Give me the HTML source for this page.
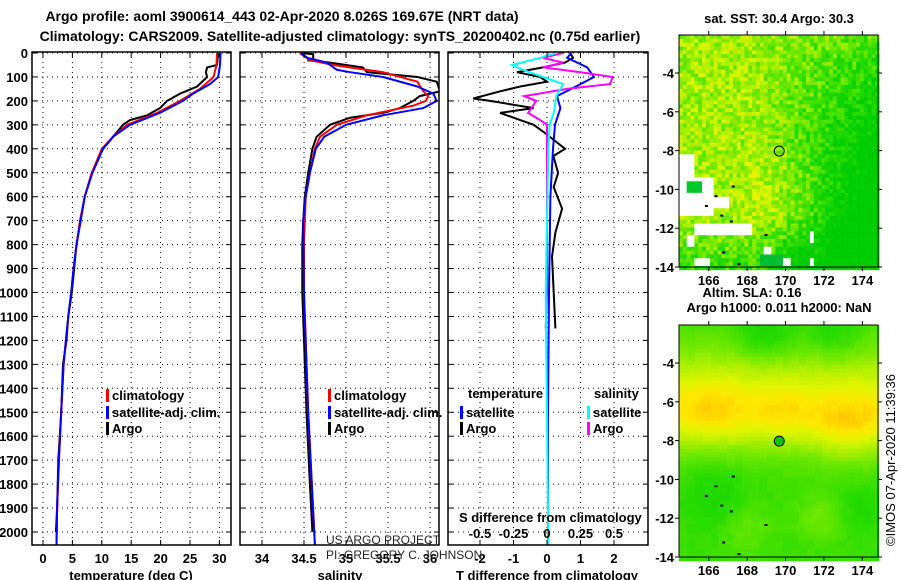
<!DOCTYPE html>
<html><head><meta charset="utf-8">
<style>
html,body{margin:0;padding:0;background:#fff;}
svg{display:block;font-family:"Liberation Sans",sans-serif;}
.b{font-weight:bold;font-size:13px;}
.t{font-weight:bold;font-size:14px;}
</style></head>
<body>
<svg id="chart" width="900" height="580" viewBox="0 0 900 580" xmlns="http://www.w3.org/2000/svg">
<defs>
<clipPath id="c1"><rect x="32" y="52" width="199" height="493"/></clipPath>
<clipPath id="c2"><rect x="240" y="52" width="199" height="493"/></clipPath>
<clipPath id="c3"><rect x="448" y="52" width="200" height="493"/></clipPath>
</defs>
<text class="t" x="282" y="21" text-anchor="middle">Argo profile: aoml 3900614_443 02-Apr-2020 8.026S 169.67E (NRT data)</text>
<text class="t" x="340" y="41" text-anchor="middle">Climatology: CARS2009. Satellite-adjusted climatology: synTS_20200402.nc (0.75d earlier)</text>
<g id="grid"></g>
<g id="series"></g>
<g id="frames"></g>
<g id="labels"></g>
<g id="maps"></g>
</svg>
<script>
// ---- data ----
const tDepth   = [0,50,60,80,100,140,170,200,230,260,280,300,350,400,500,600,700,800,900,1000,1100,1200,1300,1500,1700,1900,2000];
const tArgo    = [29.8,29.6,27.9,27.7,27.9,26.2,23.3,21.1,19.9,17.7,14.8,13.6,11.9,10.2,8.3,7.1,6.4,5.7,5.3,4.9,4.3,4.0,3.4,3.1,2.6,2.4,2.2];
const cDepth   = [0,50,100,150,200,250,300,350,400,500,600,700,800,900,1000,1100,1200,1300,1500,1700,1900,2055];
const tClim    = [29.6,29.5,29.0,26.7,23.3,19.4,14.3,11.9,10.0,8.3,7.1,6.3,5.7,5.2,4.8,4.3,3.9,3.5,3.1,2.7,2.4,2.3];
const sDepth   = [0,50,100,130,170,200,250,300,350,400,500,600,700,800,900,1000,1100,1200,1300,1500,1700,1900,2055];
const tSat     = [30.2,30.1,29.8,28.4,25.5,23.8,19.9,14.8,11.9,10.2,8.4,7.1,6.4,5.7,5.2,4.8,4.3,3.9,3.5,3.1,2.7,2.4,2.3];

const salArgoDepth = [0,5,25,30,40,60,80,100,120,160,180,200,230,250,270,300,350,400,500,600,700,800,1000,1200,1500,1800,2000];
const salArgo      = [34.46,34.61,34.61,34.54,34.81,35.20,35.25,35.85,36.08,36.12,35.88,35.80,35.64,35.44,35.05,34.81,34.65,34.60,34.55,34.51,34.49,34.48,34.48,34.50,34.53,34.57,34.60];
const salClimDepth = [0,30,50,80,120,160,180,200,220,260,300,350,400,500,600,800,1000,1500,2055];
const salClim      = [34.45,34.57,34.85,35.44,35.85,35.92,35.98,35.95,35.80,35.25,34.89,34.69,34.63,34.57,34.52,34.50,34.50,34.55,34.63];
const salSatDepth  = [0,20,40,70,80,100,140,170,200,230,260,300,350,400,500,600,700,1000,1500,2055];
const salSat       = [34.46,34.54,34.77,34.89,35.05,35.44,35.85,36.04,36.08,35.92,35.44,35.00,34.74,34.64,34.57,34.52,34.49,34.50,34.55,34.63];

const dTArgoDepth = [0,20,40,60,80,100,120,140,160,190,200,230,250,280,300,330,400,430,500,560,650,750,850,1000,1150];
const dTArgo      = [0.69,0.78,0.54,-0.12,-0.9,-0.2,0,-0.8,-1.4,-2.2,-1.7,-0.4,-1.4,-0.8,-0.4,-0.1,0.54,0.19,0.33,0.2,0.45,0.25,0.15,0.2,0.25];
const dTSatDepth  = [0,20,60,100,130,180,230,300,400,600,1000,1500,2055];
const dTSat       = [0.73,0.6,1.2,1.4,1.0,0.3,0.4,0.24,0.18,0.1,0.06,0.03,0.03];
const dSArgoDepth = [0,20,40,60,80,100,130,150,180,200,250,280,300,400,1000,1150];
const dSArgo      = [0.12,-0.03,0.12,-0.03,0.25,0.49,0.47,0.15,-0.17,-0.08,-0.14,-0.05,0,0,0,-0.01];
const dSSatDepth  = [0,20,50,70,100,130,180,250,300,400,1000,1500,2055];
const dSSat       = [0.07,-0.05,-0.26,-0.18,-0.03,0.12,0.07,0.05,0.02,0.01,-0.01,0.0,0.01];

const depthTicks = [0,100,200,300,400,500,600,700,800,900,1000,1100,1200,1300,1400,1500,1600,1700,1800,1900,2000];
const tempTicks  = [0,5,10,15,20,25,30];
const salTicks   = [34,34.5,35,35.5,36];
const dTTicks    = [-2,-1,0,1,2];
const dSTicks    = [-0.5,-0.25,0,0.25,0.5];
const dSTickLabels = ['-0.5','-0.25','0','0.25','0.5'];

// ---- scales ----
const yD = d => 53 + d*0.2395;
const xT = t => 43 + t*5.88;
const xS = s => 346 + (s-35)*84;
const xDT = v => 547 + v*33.5;
const xDS = v => 547 + v*134;

const NS='http://www.w3.org/2000/svg';
function mk(tag, attrs, parent){const e=document.createElementNS(NS,tag);for(const k in attrs)e.setAttribute(k,attrs[k]);parent.appendChild(e);return e;}
const G=document.getElementById('grid'),S=document.getElementById('series'),F=document.getElementById('frames'),L=document.getElementById('labels');

const panels=[{x0:32,x1:231,ticks:tempTicks,sx:xT,lab:tempTicks.map(String),title:'temperature (deg C)',tx:131},
{x0:240,x1:439,ticks:salTicks,sx:xS,lab:salTicks.map(String),title:'salinity',tx:340},
{x0:448,x1:648,ticks:dTTicks,sx:xDT,lab:dTTicks.map(String),title:'T difference from climatology',tx:547}];
const yTop=52,yBot=545;
panels.forEach((p,i)=>{
  depthTicks.forEach(d=>{
    const y=yD(d);
    const gl=mk('line',{x1:p.x0,x2:p.x1,y1:y,y2:y,stroke:'#000','stroke-width':1,'stroke-dasharray':'1,4'},G);
    
    
    mk('line',{x1:p.x0,x2:p.x0+5,y1:y,y2:y,stroke:'#000'},F);
    mk('line',{x1:p.x1-5,x2:p.x1,y1:y,y2:y,stroke:'#000'},F);
    if(i===0){const t=mk('text',{x:28,y:y+5,'text-anchor':'end',class:'b'},L);t.textContent=d;
      
      }
  });
  p.ticks.forEach((v,j)=>{
    const x=p.sx(v);
    const gl=mk('line',{x1:x,x2:x,y1:yTop,y2:yBot,stroke:'#000','stroke-width':1,'stroke-dasharray':'1,4'},G);
    
    
    mk('line',{x1:x,x2:x,y1:yBot-5,y2:yBot,stroke:'#000'},F);
    mk('line',{x1:x,x2:x,y1:yTop,y2:yTop+5,stroke:'#000'},F);
    const t=mk('text',{x:x,y:563,'text-anchor':'middle',class:'b'},L);t.textContent=p.lab[j];
    
    
  });
  const fr=mk('rect',{x:p.x0,y:yTop,width:p.x1-p.x0,height:yBot-yTop,fill:'none',stroke:'#000','stroke-width':1.5},F);
  
  
  const tt=mk('text',{x:p.tx,y:580,'text-anchor':'middle',class:'b'},L);tt.textContent=p.title;
  
  
});
dSTicks.forEach((v,j)=>{
  const t=mk('text',{x:xDS(v),y:538,'text-anchor':'middle',class:'b'},L);t.textContent=dSTickLabels[j];
  
  
});

function line(depths, vals, sx, color, clip, name){
  const pts=depths.map((d,i)=>sx(vals[i]).toFixed(1)+','+yD(d).toFixed(1)).join(' ');
  const e=mk('polyline',{points:pts,fill:'none',stroke:color,'stroke-width':2,'clip-path':'url(#'+clip+')'},S);
  
  
}
line(tDepth,tArgo,xT,'#000','c1','temp-argo-line');
line(cDepth,tClim,xT,'#f00','c1','temp-climatology-line');
line(sDepth,tSat,xT,'#00f','c1','temp-satellite-line');
line(salArgoDepth,salArgo,xS,'#000','c2','salinity-argo-line');
line(salClimDepth,salClim,xS,'#f00','c2','salinity-climatology-line');
line(salSatDepth,salSat,xS,'#00f','c2','salinity-satellite-line');
line(dTArgoDepth,dTArgo,xDT,'#000','c3','tdiff-argo-line');
line(dTSatDepth,dTSat,xDT,'#00f','c3','tdiff-satellite-line');
line(dSArgoDepth,dSArgo,xDS,'#f0f','c3','sdiff-argo-line');
line(dSSatDepth,dSSat,xDS,'#0ff','c3','sdiff-satellite-line');

function leg(x,y,color,label,name){
  const g=mk('g',{},L);
  
  
  mk('rect',{x:x,y:y-11,width:3,height:13,fill:color},g);
  const t=mk('text',{x:x+6,y:y,class:'b'},g);t.textContent=label;
}
leg(106,400,'#f00','climatology','legend-climatology');
leg(106,417,'#00f','satellite-adj. clim.','legend-satellite-adj');
leg(106,433,'#000','Argo','legend-argo');
leg(328,400,'#f00','climatology','legend-sal-climatology');
leg(328,417,'#00f','satellite-adj. clim.','legend-sal-satellite-adj');
leg(328,433,'#000','Argo','legend-sal-argo');
leg(460,417,'#00f','satellite','legend-tdiff-satellite');
leg(460,433,'#000','Argo','legend-tdiff-argo');
leg(587,417,'#0ff','satellite','legend-sdiff-satellite');
leg(587,433,'#f0f','Argo','legend-sdiff-argo');
</script>
<script>
(function(){
const NS='http://www.w3.org/2000/svg';
const M=document.getElementById('maps');
function mk(tag,a,p){const e=document.createElementNS(NS,tag);for(const k in a)e.setAttribute(k,a[k]);p.appendChild(e);return e;}
const mx0=679,mx1=878,lon0=164.45,ppd=19.2,lat0=-2.04,ppl=19.4;
const X=lon=>mx0+(lon-lon0)*ppd;
function hash(i,j,s){let h=(i*374761393+j*668265263+s*1442695041)|0;h=(h^(h>>>13))*1274126177|0;h=h^(h>>>16);return ((h>>>0)%10000)/10000;}
function col(v){
  v=Math.max(0,Math.min(1,v));
  const stops=[[0,[0,205,0]],[0.25,[40,220,0]],[0.45,[110,232,0]],[0.62,[175,240,0]],[0.78,[225,245,0]],[0.9,[255,230,0]],[1,[255,200,0]]];
  for(let k=1;k<stops.length;k++){if(v<=stops[k][0]){const a=stops[k-1],b=stops[k];const f=(v-a[0])/(b[0]-a[0]);
    const c=a[1].map((x,i)=>Math.round(x+(b[1][i]-x)*f));return 'rgb('+c.join(',')+')';}}
  return 'rgb(255,200,0)';
}
const whites=[[164.45,165.3,-8.2,-9.5],[164.45,166.2,-9.4,-11.3],[165.8,167,-10.3,-11],[165.3,168.3,-11.7,-12.3],[164.9,165.3,-12.3,-13],[168.9,169.3,-13,-13.4],[169.8,170.3,-13.5,-14],[171.2,171.4,-12.1,-12.8],[171.2,171.4,-13.5,-14],[165.3,166,-13.5,-14]];
function g2(lon,lat,cx,cy,s){return Math.exp(-(Math.pow(lon-cx,2)+Math.pow(lat-cy,2))/s);}
function drawMap(top,smooth,name,title,tY){
  const Y=lat=>top+(lat0-lat)*ppl;
  const bot=Y(-14);
  const g=mk('g',{},M);
  
  
  const cs=smooth?4:3.85;
  const nx=Math.ceil((mx1-mx0)/cs),ny=Math.ceil((bot-top)/cs);
  for(let j=0;j<ny;j++)for(let i=0;i<nx;i++){
    const lon=lon0+(i+0.5)*cs/ppd, lat=lat0-(j+0.5)*cs/ppl;
    let v;
    if(smooth){
      const sig = lat>-6.5 ? 3.0 : 2.0;
      v=0.3+0.55*Math.exp(-Math.pow((lat+6.5)/sig,2))
        +0.12*g2(lon,lat,166.2,-6.2,3)+0.18*g2(lon,lat,173.2,-7.6,3)+0.08*g2(lon,lat,169.8,-6.5,2)
        -0.2*g2(lon,lat,169,-2.5,2)-0.15*g2(lon,lat,172.5,-2.5,2)
        +0.15*g2(lon,lat,171.8,-12,1.5)+0.12*g2(lon,lat,168,-12.5,1.5)
        -0.12*g2(lon,lat,166.3,-10.8,2.5)-0.1*g2(lon,lat,174,-11.5,1.5);
      v+=(hash(i>>1,j>>1,7)-0.5)*0.04;
    } else {
      v=0.58-0.4*Math.max(0,(lon-168.5)/6)*Math.max(0,(-lat+1)/8)*1.5
        +0.18*g2(lon,lat,170.5,-10.5,6)
        -0.3*Math.max(0,(-lat-11.5)/2.5)*(lon<171.5?1:0.3);
      v+=(hash(i,j,3)-0.5)*0.4;
    }
    let c=col(v);
    if(!smooth){
      for(const w of whites){if(lon>=w[0]&&lon<=w[1]&&lat<=w[2]&&lat>=w[3]){c='#fff';}}
      if(lon>164.9&&lon<165.7&&lat<-9.6&&lat>-10.2)c='rgb(0,200,40)';
      if(lon>168.7&&lon<169.8&&lat<-13.4&&lat>-14)c='rgb(0,190,50)';
    }
    mk('rect',{x:(mx0+i*cs).toFixed(2),y:(top+j*cs).toFixed(2),width:cs+0.3,height:cs+0.3,fill:c},g);
  }
  [[165.8,-10.8],[166.3,-10.3],[167.1,-11.6],[166.6,-11.3],[167.5,-13.8],[166.7,-13.2],[167.2,-9.8],[168.9,-12.3]].forEach(p=>{
    mk('rect',{x:X(p[0]),y:Y(p[1]),width:3,height:2,fill:'#000'},g);
  });
  const circ=mk('circle',{cx:X(169.67),cy:Y(-8.026),r:5,fill:smooth?'#00c800':'none',stroke:'#000','stroke-width':1},g);
  
  
  mk('rect',{x:mx0,y:top,width:mx1-mx0,height:bot-top,fill:'none',stroke:'#000','stroke-width':1},g);
  [166,168,170,172,174].forEach(l=>{
    const x=X(l);
    mk('line',{x1:x,x2:x,y1:top-4,y2:top,stroke:'#000'},g);
    mk('line',{x1:x,x2:x,y1:bot,y2:bot+4,stroke:'#000'},g);
    const t=mk('text',{x:x,y:bot+18,'text-anchor':'middle',class:'b'},g);t.textContent=l;
    
    
  });
  [-4,-6,-8,-10,-12,-14].forEach(l=>{
    const y=Y(l);
    mk('line',{x1:mx1,x2:mx1+4,y1:y,y2:y,stroke:'#000'},g);
    mk('line',{x1:mx0-4,x2:mx0,y1:y,y2:y,stroke:'#000'},g);
    const t=mk('text',{x:674,y:y+5,'text-anchor':'end',class:'b'},g);t.textContent=l;
    
    
  });
  const tt=mk('text',{x:779,y:tY,'text-anchor':'middle',class:'b'},g);tt.textContent=title;
  
  
}
drawMap(35,false,'sst-map','sat. SST: 30.4 Argo: 30.3',23);
drawMap(325,true,'sla-map','Argo h1000: 0.011 h2000: NaN',312);
const a=mk('text',{x:752,y:297,'text-anchor':'middle',class:'b'},M);a.textContent='Altim. SLA: 0.16';


const r=mk('text',{x:0,y:0,'text-anchor':'middle','font-size':'13',transform:'translate(895,460) rotate(-90)'},M);r.textContent='©IMOS 07-Apr-2020 11:39:36';


})();
</script>
<div style="position:absolute;left:326px;top:533px;font-family:'Liberation Sans',sans-serif;font-size:12px;line-height:15px;color:#222;">US ARGO PROJECT<br>PI: GREGORY C. JOHNSON</div>
<div style="position:absolute;left:459px;top:510px;font-family:'Liberation Sans',sans-serif;font-size:13px;font-weight:bold;">S difference from climatology</div>
<div style="position:absolute;left:468px;top:386px;font-family:'Liberation Sans',sans-serif;font-size:13px;font-weight:bold;">temperature</div>
<div style="position:absolute;left:594px;top:386px;font-family:'Liberation Sans',sans-serif;font-size:13px;font-weight:bold;">salinity</div>
</body></html>
